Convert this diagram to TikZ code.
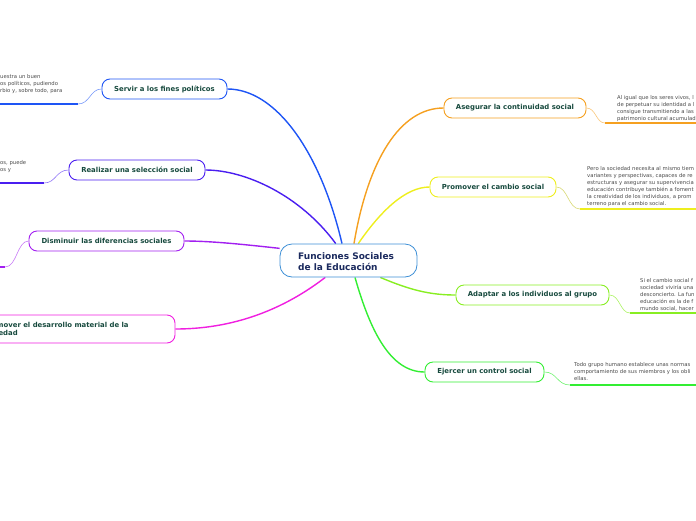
\documentclass[tikz,border=0pt]{standalone}
\usepackage{fontspec}
\setmainfont{DejaVu Sans}
\usetikzlibrary{backgrounds}
\definecolor{lbl}{HTML}{174A3E}
\definecolor{ctr}{HTML}{1B2A5E}
\definecolor{ptxt}{HTML}{4A4A4A}
\definecolor{cC}{HTML}{3D8FD6}
\definecolor{cA}{HTML}{F5A020}
\definecolor{cB}{HTML}{EEEE1E}
\definecolor{cCc}{HTML}{88EE22}
\definecolor{cD}{HTML}{33EE33}
\definecolor{cE}{HTML}{1E55F5}
\definecolor{cF}{HTML}{4A1EF0}
\definecolor{cG}{HTML}{A21FF0}
\definecolor{cH}{HTML}{F01FE0}
\begin{document}
\begin{tikzpicture}[x=1pt,y=-1pt,
  box/.style={draw, rounded corners=8pt, fill=white, line width=0.9pt,
    font=\bfseries\fontsize{6.9}{8}\selectfont, text=lbl, inner sep=0pt, minimum height=20pt},
  para/.style={anchor=north west, inner sep=0pt, align=left, text=ptxt,
    font=\fontsize{5.3}{7}\selectfont},
  mainlink/.style={line width=1.4pt},
  sublink/.style={line width=0.6pt},
  uline/.style={line width=2.2pt}]
\useasboundingbox (0,0) rectangle (696,520);

% center
\node[draw=cC, fill=white, line width=0.8pt, rounded corners=12pt, minimum width=137pt, minimum height=33pt, inner sep=0pt] (c) at (348.5,260.5) {};
\node[anchor=west, inner sep=0pt, align=left, text=ctr, font=\bfseries\fontsize{9}{11.5}\selectfont] (ct) at (298,261.5) {Funciones Sociales\\de la Educación};

\node[box, draw=cA, minimum width=142pt] (a) at (515,108) {Asegurar la continuidad social};
\node[box, draw=cB, minimum width=126pt] (b) at (493,187) {Promover el cambio social};
\node[box, draw=cCc, minimum width=153pt] (cc) at (532.5,295) {Adaptar a los individuos al grupo};
\node[box, draw=cD, minimum width=119pt] (d) at (484.5,372) {Ejercer un control social};
\node[box, draw=cE, minimum width=125pt] (e) at (164.5,89) {Servir a los fines políticos};
\node[box, draw=cF, minimum width=136pt] (f) at (137,170) {Realizar una selección social};
\node[box, draw=cG, minimum width=155pt] (g) at (106.5,241) {Disminuir las diferencias sociales};
\node[box, draw=cH, minimum width=215pt, minimum height=28pt] (h) at (67.5,329) {};
\node[anchor=west, inner sep=0pt, align=left, text=lbl, font=\bfseries\fontsize{6.9}{8.5}\selectfont] (ht) at (-17,329) {Promover el desarrollo material de la\\sociedad};

% main connectors
\begin{scope}[on background layer]
\draw[mainlink, cA] (c.72) .. controls (368,160) and (400,108) .. (a.west);
\draw[mainlink, cB] (c.60) .. controls (380,212) and (405,187) .. (b.west);
\draw[mainlink, cCc] (c.332) .. controls (410,290) and (430,295) .. (cc.west);
\draw[mainlink, cD] (c.291) .. controls (370,330) and (390,372) .. (d.west);
\draw[mainlink, cE] (c.111) .. controls (320,150) and (275,89) .. (e.east);
\draw[mainlink, cF] (c.127) .. controls (300,195) and (245,170) .. (f.east);
\draw[mainlink, cG] (c.170) .. controls (240,244) and (210,241) .. (g.east);
\draw[mainlink, cH] (c.216) .. controls (270,320) and (215,329) .. (h.east);
\end{scope}

% underline anchors
\coordinate (ua) at (605,123); \coordinate (uae) at (696,123);
\coordinate (ub) at (580,209); \coordinate (ube) at (696,209);
\coordinate (uc) at (630,313); \coordinate (uce) at (696,313);
\coordinate (ud) at (570,385); \coordinate (ude) at (696,385);
\coordinate (ue) at (78,104); \coordinate (uee) at (-5,104);
\coordinate (uf) at (44,183); \coordinate (ufe) at (-5,183);
\coordinate (ug) at (5,267); \coordinate (uge) at (-5,267);

\draw[sublink, cA!60] (a.east) .. controls (596,108) and (596,123) .. (ua);
\draw[uline, cA] (ua) -- (uae);
\draw[sublink, cB!80!black!60] (b.east) .. controls (568,187) and (568,209) .. (ub);
\draw[uline, cB] (ub) -- (ube);
\draw[sublink, cCc!70] (cc.east) .. controls (620,295) and (620,313) .. (uc);
\draw[uline, cCc] (uc) -- (uce);
\draw[sublink, cD!70] (d.east) .. controls (557,372) and (557,385) .. (ud);
\draw[uline, cD] (ud) -- (ude);
\draw[sublink, cE!60] (e.west) .. controls (90,89) and (90,104) .. (ue);
\draw[uline, cE] (ue) -- (uee);
\draw[sublink, cF!60] (f.west) .. controls (56,170) and (56,183) .. (uf);
\draw[uline, cF] (uf) -- (ufe);
\draw[sublink, cG!60] (g.west) .. controls (17,241) and (17,267) .. (ug);
\draw[uline, cG] (ug) -- (uge);

% paragraphs
\node[para] (pa) at (617,95.5) {Al igual que los seres vivos, l\\de perpetuar su identidad a l\\consigue transmitiendo a las\\patrimonio cultural acumulad};
\node[para] (pb) at (587,166.5) {Pero la sociedad necesita al mismo tiem\\variantes y perspectivas, capaces de re\\estructuras y asegurar su supervivencia\\educación contribuye también a foment\\la creatividad de los individuos, a prom\\terreno para el cambio social.};
\node[para] (pc) at (640,278.5) {Si el cambio social f\\sociedad viviría una\\desconcierto. La fun\\educación es la de f\\mundo social, hacer};
\node[para] (pd) at (574,362.5) {Todo grupo humano establece unas normas\\comportamiento de sus miembros y los obli\\ellas.};
\node[para] (pe) at (0,74.5) {uestra un buen\\os políticos, pudiendo\\rbio y, sobre todo, para};
\node[para] (pf) at (0,160.5) {os, puede\\os y};
\end{tikzpicture}
\end{document}
